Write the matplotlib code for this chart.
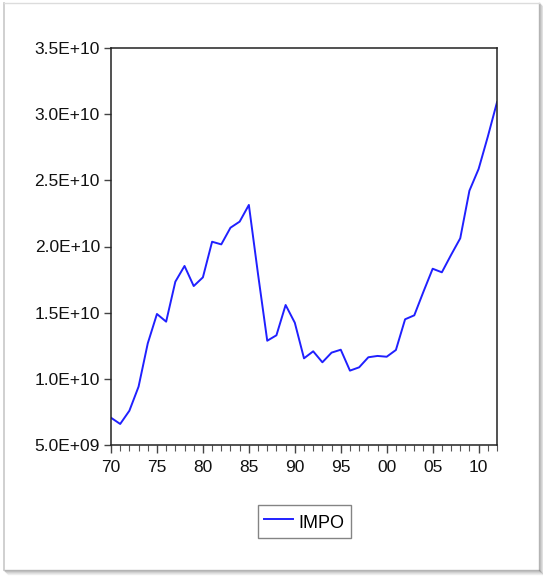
import matplotlib
matplotlib.use("Agg")
import matplotlib.pyplot as plt
from matplotlib.lines import Line2D
from matplotlib.ticker import FixedLocator, MultipleLocator

years = list(range(1970, 2013))
impo_e10 = [0.706, 0.659, 0.759, 0.941, 1.268, 1.490, 1.432, 1.734, 1.853, 1.701,
            1.767, 2.036, 2.016, 2.142, 2.188, 2.314, 1.790, 1.288, 1.329, 1.558,
            1.424, 1.155, 1.208, 1.125, 1.198, 1.220, 1.062, 1.087, 1.163, 1.173,
            1.167, 1.218, 1.450, 1.480, 1.659, 1.832, 1.805, 1.936, 2.062, 2.422,
            2.586, 2.830, 3.090]
impo = [v * 1e10 for v in impo_e10]
ytick_vals = [5e9, 1e10, 1.5e10, 2e10, 2.5e10, 3e10, 3.5e10]
ytick_labels = ["5.0E+09", "1.0E+10", "1.5E+10", "2.0E+10", "2.5E+10", "3.0E+10", "3.5E+10"]
xtick_years = [1970, 1975, 1980, 1985, 1990, 1995, 2000, 2005, 2010]
xtick_labels = ["70", "75", "80", "85", "90", "95", "00", "05", "10"]

plt.rcParams['font.family'] = ['Liberation Sans', 'DejaVu Sans']

W, H = 543, 576
fig = plt.figure(figsize=(W / 100, H / 100), dpi=100)

def fx(px):
    return px / W
def fy(py):
    return 1 - py / H

# outer frame with soft shadow
for i, a in enumerate([0.55, 0.4, 0.28, 0.18, 0.1]):
    off = i
    fig.add_artist(Line2D([fx(539 + off), fx(539 + off)], [fy(3 + off), fy(570 + off)],
                          color='gray', alpha=a, lw=1, transform=fig.transFigure))
    fig.add_artist(Line2D([fx(4 + off), fx(539 + off)], [fy(570 + off), fy(570 + off)],
                          color='gray', alpha=a, lw=1, transform=fig.transFigure))
fig.add_artist(Line2D([fx(4), fx(4)], [fy(3), fy(570)], color='#c8c8c8', lw=1.2,
                      transform=fig.transFigure))
fig.add_artist(Line2D([fx(4), fx(539)], [fy(3), fy(3)], color='#dcdcdc', lw=1,
                      transform=fig.transFigure))

ax = fig.add_axes([111 / W, 1 - 445 / H, (497 - 111) / W, (445 - 48) / H])
ax.plot(years, impo, color='#2020ff', lw=1.4, label='IMPO')
ax.set_xlim(1970, 2012)
ax.set_ylim(5e9, 3.5e10)

ax.yaxis.set_major_locator(FixedLocator(ytick_vals))
ax.set_yticklabels(ytick_labels)
ax.xaxis.set_major_locator(FixedLocator(xtick_years))
ax.set_xticklabels(xtick_labels)
ax.xaxis.set_minor_locator(MultipleLocator(1))

ax.tick_params(axis='both', which='major', direction='out', labelsize=12.5,
               color='#444444', width=1, labelcolor='#111111')
ax.tick_params(axis='x', which='major', length=6, pad=5)
ax.tick_params(axis='x', which='minor', length=4, color='#555555', width=0.8)
ax.tick_params(axis='y', which='major', length=5, pad=3)
for s in ax.spines.values():
    s.set_color('#222222')
    s.set_linewidth(1.1)

leg = fig.legend(loc='center', bbox_to_anchor=(304.5 / W, 1 - 521.5 / H),
                 frameon=True, fancybox=False, shadow=False, fontsize=13,
                 handlelength=1.6, handletextpad=0.3, borderpad=0.35,
                 handleheight=1.4)
leg.get_frame().set_edgecolor('#666666')
leg.get_frame().set_linewidth(1.0)

fig.savefig("out.png", dpi=100)
